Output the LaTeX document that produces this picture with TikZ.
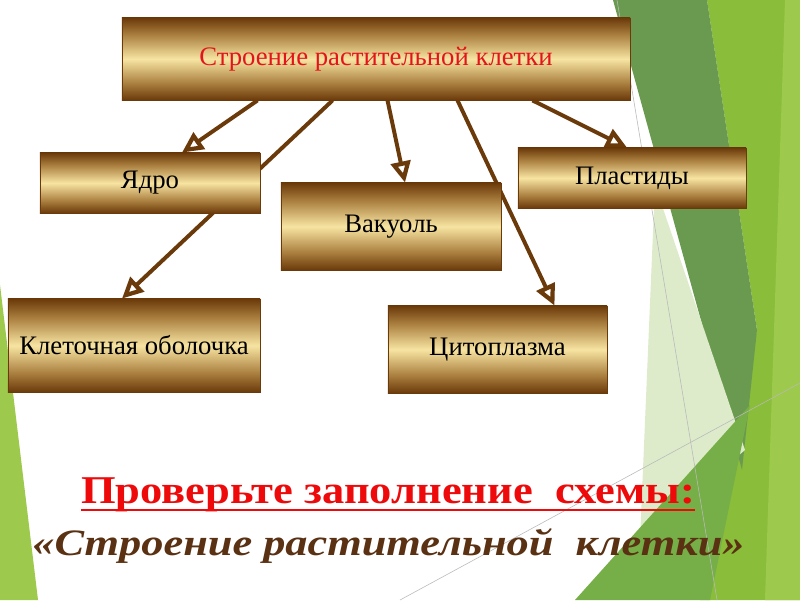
\documentclass[tikz,border=0pt]{standalone}
\usepackage{fontspec}
\setmainfont{Liberation Serif}
\usetikzlibrary{arrows.meta,backgrounds,calc}

\definecolor{cellBrown}{HTML}{6B3A0A}
\definecolor{cellTan}{HTML}{A97E3E}
\definecolor{cellGold}{HTML}{F7E4A2}
\definecolor{cellRed}{HTML}{E3141B}
\definecolor{titleRed}{HTML}{EE0A0A}
\definecolor{titleBrown}{HTML}{5A3112}
\definecolor{leafDark}{HTML}{6A9A4F}
\definecolor{leafLime}{HTML}{8ABD3A}
\definecolor{leafMid}{HTML}{76AE47}
\definecolor{leafPale}{HTML}{DDEBCB}
\definecolor{leafLight}{HTML}{9DC94C}

\pgfdeclareverticalshading{goldbar}{100bp}{color(0bp)=(cellBrown); color(25bp)=(cellBrown); color(35bp)=(cellTan); color(50bp)=(cellGold); color(65bp)=(cellTan); color(75bp)=(cellBrown); color(100bp)=(cellBrown)}

\tikzset{
  partbox/.style={draw=cellBrown, line width=0.6pt, shading=goldbar, inner sep=0pt,
    font=\fontsize{19}{21}\selectfont, text=black},
  partlink/.style={draw=cellBrown, line width=2.8pt,
    -{Triangle[length=15pt, width=14pt, fill=white, line width=3pt]}},
}

\begin{document}
\begin{tikzpicture}[x=0.025cm, y=-0.025cm]

    % Slide background (behind everything)
    \useasboundingbox (0,0) rectangle (800,600);
    \begin{scope}[on background layer]
        \fill[white] (0,0) rectangle (800,600);
        \fill[leafLime] (707,0) -- (800,0) -- (800,600) -- (700,600) -- (757,330) -- cycle;
        \fill[leafLight] (785,0) -- (800,0) -- (800,600) -- (765,600) -- cycle;
        \fill[leafDark] (613,0) -- (707,0) -- (757,330) -- (742,470) -- cycle;
        \fill[leafPale] (655,185) -- (745,450) -- (640,540) -- cycle;
        \fill[leafMid] (575,600) -- (750,405) -- (710,600) -- cycle;
        \fill[leafLight] (0,285) -- (38,600) -- (0,600) -- cycle;
        \draw[gray!55, line width=0.4pt] (617,0) -- (717,600);
        \draw[gray!55, line width=0.4pt] (400,600) -- (800,383);
    \end{scope}

    % Scheme boxes
    \node (cell) [partbox, text=cellRed, minimum width=12.7cm, minimum height=2.05cm] at (376,59) {Строение растительной клетки};
    \node (nucleus) [partbox, minimum width=5.5cm, minimum height=1.5cm] at (150,183) {Ядро};
    \node (vacuole) [partbox, minimum width=5.5cm, minimum height=2.175cm] at (391,226.5) {Вакуоль};
    \node (plastids) [partbox, minimum width=5.7cm, minimum height=1.5cm] at (632,178) {Пластиды};
    \node (wall) [partbox, minimum width=6.3cm, minimum height=2.325cm] at (134,345.5) {Клеточная оболочка};
    \node (cytoplasm) [partbox, minimum width=5.475cm, minimum height=2.175cm] at (497.5,349.5) {Цитоплазма};

    % Links (behind the boxes)
    \begin{scope}[on background layer]
        \draw[partlink] ($(cell.south west)+(136,0)$) -- ($(nucleus.north)+(32,0)$);
        \draw[partlink] ($(cell.south west)+(211,0)$) -- ($(wall.north)+(-12,0)$);
        \draw[partlink] ($(cell.south west)+(266,0)$) -- ($(vacuole.north)+(14,0)$);
        \draw[partlink] ($(cell.south west)+(336,0)$) -- ($(cytoplasm.north)+(57,0)$);
        \draw[partlink] ($(cell.south west)+(411,0)$) -- ($(plastids.north)+(-5,0)$);
    \end{scope}

    % Task text
    \node (check) [anchor=base, inner sep=0pt, font=\bfseries\fontsize{28}{30}\selectfont, text=titleRed] at (388,503) {\scalebox{1.13}[1]{Проверьте заполнение~ схемы:}};
    \draw[titleRed, line width=2.1pt] ($(check.base west)+(0,7)$) -- ($(check.base east)+(0,7)$);
    \node (subject) [anchor=base, inner sep=0pt, font=\bfseries\itshape\fontsize{26.5}{29}\selectfont, text=titleBrown] at (388.5,555) {\scalebox{1.19}[1]{«Строение растительной~ клетки»}};

\end{tikzpicture}
\end{document}
